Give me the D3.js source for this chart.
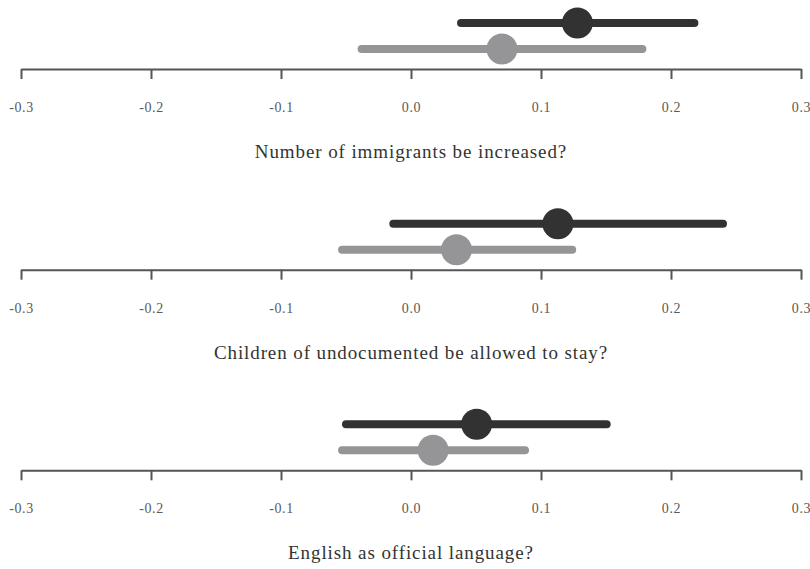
<!DOCTYPE html>
<html>
<head>
<meta charset="utf-8">
<script src="https://cdn.jsdelivr.net/npm/d3@7/dist/d3.min.js"></script>
<style>
  html, body { margin: 0; padding: 0; background: #fff; }
  svg { display: block; }
</style>
</head>
<body>
<svg id="chart" width="810" height="569"></svg>
<script>
// Survey questions, one panel each
const questions = [
  "Number of immigrants be increased?",
  "Children of undocumented be allowed to stay?",
  "English as official language?"
];

// First group (dark): point estimates and interval bounds
const darkEst = [0.128, 0.113, 0.0505];
const darkLow = [0.0385, -0.0136, -0.050];
const darkHigh = [0.218, 0.240, 0.1505];

// Second group (gray): point estimates and interval bounds
const grayEst = [0.070, 0.035, 0.017];
const grayLow = [-0.038, -0.053, -0.053];
const grayHigh = [0.178, 0.124, 0.0877];

// Axis ticks
const tickValues = [-0.3, -0.2, -0.1, 0.0, 0.1, 0.2, 0.3];

const serif = '"Liberation Serif", "DejaVu Serif", serif';

const svg = d3.select("#chart");
const x = d3.scaleLinear().domain([-0.3, 0.3]).range([21, 801]);
const panel = d3.scaleBand().domain(d3.range(questions.length)).range([0, 602]);

const series = [
  { est: darkEst, low: darkLow, high: darkHigh, color: "#323232", dy: -46 },
  { est: grayEst, low: grayLow, high: grayHigh, color: "#959597", dy: -20 }
];

questions.forEach((q, i) => {
  const axisY = panel(i) + 69;
  const g = svg.append("g");

  // Axis
  const axis = d3.axisBottom(x)
    .tickValues(tickValues)
    .tickSize(10)
    .tickSizeOuter(0)
    .tickPadding(23)
    .tickFormat(d => d.toFixed(1));
  const ax = g.append("g")
    .attr("transform", `translate(0,${axisY})`)
    .call(axis)
    .attr("font-family", serif)
    .attr("font-size", 14);
  ax.select(".domain").attr("stroke", "#555").attr("stroke-width", 2);
  ax.selectAll(".tick line").attr("stroke", "#555").attr("stroke-width", 2);
  ax.selectAll(".tick text")
    .attr("fill", "#5a5a5a")
    .attr("letter-spacing", "0.6px");

  // Intervals and point estimates
  series.forEach(s => {
    const y = axisY + s.dy;
    g.append("line")
      .attr("x1", x(s.low[i]))
      .attr("x2", x(s.high[i]))
      .attr("y1", y)
      .attr("y2", y)
      .attr("stroke", s.color)
      .attr("stroke-width", 8)
      .attr("stroke-linecap", "round");
    g.append("circle")
      .attr("cx", x(s.est[i]))
      .attr("cy", y)
      .attr("r", 15.5)
      .attr("fill", s.color);
  });

  // Question label
  g.append("text")
    .attr("x", x(0))
    .attr("y", axisY + 89)
    .attr("text-anchor", "middle")
    .attr("fill", "#333")
    .attr("font-family", serif)
    .attr("font-size", 19)
    .attr("letter-spacing", "0.9px")
    .text(q);
});
</script>
</body>
</html>
